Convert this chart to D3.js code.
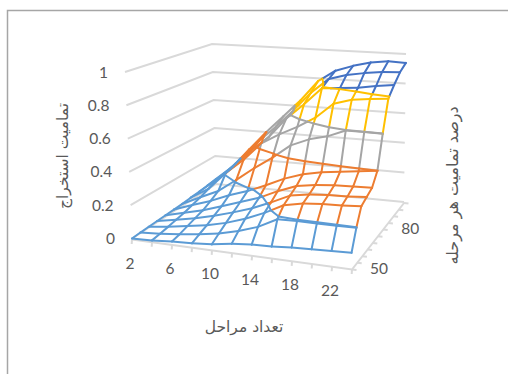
<!DOCTYPE html>
<html>
<head>
<meta charset="utf-8">
<script src="https://d3js.org/d3.v7.min.js"></script>
<style>
    html, body { margin: 0; background: white; }
    svg { display: block; }
    .tick { font: 15.5px Lato, sans-serif; fill: #595959; }
    .title { font: 15.5px "DejaVu Sans", sans-serif; fill: #595959; text-anchor: middle; }
</style>
</head>
<body>
<div id="chart"></div>
<script>
// values
const stages = [2, 4, 6, 8, 10, 12, 14, 16, 18, 20, 22, 24]
const stageLabels = [2, 6, 10, 14, 18, 22]
const depths = [50, 55, 60, 65, 70, 75, 80, 85, 90, 95, 100]
const depthLabels = [50, 80]
const valueTicks = [0, 0.2, 0.4, 0.6, 0.8, 1]
const bandColors = ["#5b9bd5", "#ed7d31", "#a5a5a5", "#ffc000", "#4472c4"]

const row50 = [0, .005, .015, .02, .03, .05, .06, .065, .075, .08, .085, .09]
const row55 = [.003, .012, .025, .04, .06, .09, .13, .19, .195, .195, .195, .198]
const row60 = [.005, .02, .04, .06, .09, .13, .18, .24, .265, .275, .28, .29]
const row65 = [.007, .03, .055, .085, .12, .16, .21, .265, .285, .295, .3, .31]
const row70 = [.009, .04, .07, .11, .15, .19, .245, .29, .31, .32, .325, .33]
const row75 = [.011, .055, .095, .145, .185, .235, .29, .33, .355, .37, .385, .4]
const row80 = [.013, .07, .125, .21, .3, .38, .47, .52, .55, .598, .598, .598]
const row85 = [.018, .09, .21, .31, .43, .5, .56, .63, .73, .765, .78, .79]
const row90 = [.022, .115, .22, .34, .44, .575, .68, .795, .805, .815, .835, .85]
const row95 = [.028, .125, .24, .37, .48, .6, .73, .83, .865, .885, .9, .905]
const row100 = [.035, .135, .27, .4, .52, .64, .78, .86, .9, .93, .945, .94]
const surface = [row50, row55, row60, row65, row70, row75, row80, row85, row90, row95, row100]

const width = 508, height = 374

const svg = d3.select("#chart").append("svg")
    .attr("width", width)
    .attr("height", height)

// three axes of the box, each 0..1
const xScale = d3.scaleLinear().domain([2, 24]).range([0, 1])
const yScale = d3.scaleLinear().domain([50, 100]).range([0, 1])
const zScale = d3.scaleLinear().domain([0, 1]).range([0, 1])

// screen position of the box corners
const frontLeft = [[132, 238.5], [125, 72]]
const frontRight = [[352, 268.5], [347, 94]]
const backLeft = [[216, 184], [212, 44]]
const backRight = [[404, 202], [406, 54]]

function project(stage, depth, value) {
    const u = xScale(stage), v = yScale(depth), w = zScale(value)
    const mix = (i) => {
        const front = (1 - u) * ((1 - w) * frontLeft[0][i] + w * frontLeft[1][i])
            + u * ((1 - w) * frontRight[0][i] + w * frontRight[1][i])
        const back = (1 - u) * ((1 - w) * backLeft[0][i] + w * backLeft[1][i])
            + u * ((1 - w) * backRight[0][i] + w * backRight[1][i])
        return (1 - v) * front + v * back
    }
    return [mix(0), mix(1)]
}

const line = d3.line()

// walls
const gridColor = "#d9d9d9"
valueTicks.forEach(t => {
    svg.append("path")
        .attr("d", line([project(2, 50, t), project(2, 100, t), project(24, 100, t)]))
        .attr("fill", "none")
        .attr("stroke", gridColor)
        .attr("stroke-width", 2)
})

// floor axes
svg.append("path")
    .attr("d", line([project(2, 50, 0), project(24, 50, 0), project(24, 100, 0)]))
    .attr("transform", "translate(0,1)")
    .attr("fill", "none")
    .attr("stroke", gridColor)
    .attr("stroke-width", 2)

stages.forEach(s => {
    const p = project(s, 50, 0)
    svg.append("line")
        .attr("x1", p[0]).attr("y1", p[1] + 1)
        .attr("x2", p[0] - 0.3).attr("y2", p[1] + 5.5)
        .attr("stroke", gridColor)
        .attr("stroke-width", 2)
})
depths.forEach(d => {
    const p = project(24, d, 0)
    svg.append("line")
        .attr("x1", p[0]).attr("y1", p[1] + 1)
        .attr("x2", p[0] + 4.5).attr("y2", p[1] + 1.5)
        .attr("stroke", gridColor)
        .attr("stroke-width", 2)
})

// tick labels
valueTicks.forEach(t => {
    const p = project(2, 50, t)
    svg.append("text")
        .attr("class", "tick")
        .attr("x", p[0] - 17)
        .attr("y", p[1] + 5.5)
        .attr("text-anchor", "end")
        .text(t)
})
stageLabels.forEach(s => {
    const p = project(s, 50, 0)
    svg.append("text")
        .attr("class", "tick")
        .attr("x", p[0] - 2)
        .attr("y", p[1] + 30)
        .attr("text-anchor", "middle")
        .text(s)
})
depthLabels.forEach(d => {
    const p = project(24, d, 0)
    svg.append("text")
        .attr("class", "tick")
        .attr("x", p[0] + 27)
        .attr("y", p[1] + 5)
        .attr("text-anchor", "middle")
        .text(d)
})

// axis titles
svg.append("text").attr("class", "title")
    .attr("x", 244).attr("y", 332)
    .text("تعداد مراحل")
svg.append("text").attr("class", "title")
    .attr("transform", "translate(68,156) rotate(-90)")
    .text("تمامیت استخراج")
svg.append("text").attr("class", "title")
    .attr("font-size", 16)
    .style("font-size", "16px")
    .attr("transform", "translate(458,185.5) rotate(-90)")
    .text("درصد تمامیت هر مرحله")

// colour band of a value
const band = (v) => Math.min(bandColors.length - 1, Math.floor(v / 0.2 + 1e-9))

const grid = (i, j) => ({ s: stages[j], d: depths[i], v: surface[i][j] })
const cross = (a, b, t) => {
    const f = (t - a.v) / (b.v - a.v)
    return { s: a.s + f * (b.s - a.s), d: a.d + f * (b.d - a.d), v: t }
}

function seg(a, b, color) {
    svg.append("path")
        .attr("d", line([project(a.s, a.d, a.v), project(b.s, b.d, b.v)]))
        .attr("fill", "none")
        .attr("stroke", color)
        .attr("stroke-width", 2)
        .attr("stroke-linecap", "round")
}

// one grid edge, cut where it passes a band limit
function edge(a, b) {
    const lo = a.v <= b.v ? a : b, hi = a.v <= b.v ? b : a
    let prev = lo
    for (let t = 0.2; t < 1; t += 0.2) {
        const lim = Math.round(t * 10) / 10
        if (lo.v < lim && hi.v > lim) {
            const c = cross(lo, hi, lim)
            seg(prev, c, bandColors[Math.round(lim / 0.2) - 1])
            prev = c
        }
    }
    seg(prev, hi, bandColors[band((prev.v + hi.v) / 2)])
}

surface.forEach((row, i) => row.forEach((v, j) => {
    if (j < stages.length - 1) edge(grid(i, j), grid(i, j + 1))
    if (i < depths.length - 1) edge(grid(i, j), grid(i + 1, j))
}))

// band limits inside each cell
for (let k = 1; k < bandColors.length; k++) {
    const lim = k * 0.2
    for (let i = 0; i < depths.length - 1; i++) {
        for (let j = 0; j < stages.length - 1; j++) {
            const c = [grid(i, j), grid(i, j + 1), grid(i + 1, j + 1), grid(i + 1, j)]
            const pts = []
            c.forEach((a, n) => {
                const b = c[(n + 1) % 4]
                if ((a.v < lim) !== (b.v < lim)) pts.push(cross(a, b, lim))
            })
            for (let n = 0; n + 1 < pts.length; n += 2) seg(pts[n], pts[n + 1], bandColors[k - 1])
        }
    }
}

// chart frame, top and left sides only show in the picture
svg.append("path")
    .attr("d", line([[width, 10.5], [7.5, 10.5], [7.5, height]]))
    .attr("fill", "none")
    .attr("stroke", "#a6a6a6")
    .attr("stroke-width", 1.5)
</script>
</body>
</html>
